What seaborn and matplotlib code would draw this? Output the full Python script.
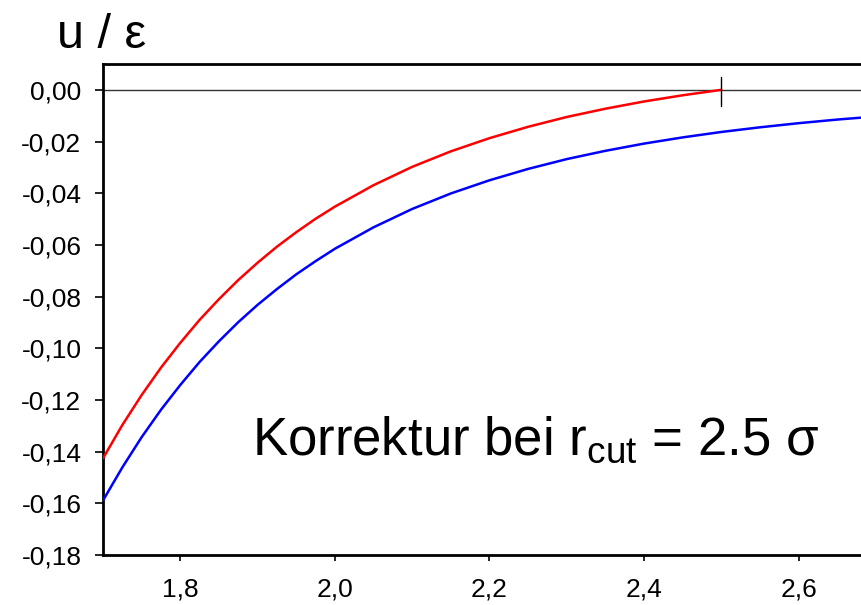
import matplotlib
matplotlib.use("Agg")
import matplotlib.pyplot as plt
import seaborn as sns
import pandas as pd

# Lennard-Jones pair potential u/eps versus distance r/sigma
r = [1.700, 1.725, 1.750, 1.775, 1.800, 1.825, 1.850, 1.875, 1.900, 1.925,
     1.950, 1.975, 2.00, 2.05, 2.10, 2.15, 2.20, 2.25, 2.30, 2.35, 2.40,
     2.45, 2.50, 2.55, 2.60, 2.65, 2.70]
u_full = [-0.1589, -0.1461, -0.1344, -0.1238, -0.1142, -0.1053, -0.0973,
          -0.0899, -0.0832, -0.0771, -0.0714, -0.0663, -0.0615, -0.0532,
          -0.0461, -0.0401, -0.0350, -0.0306, -0.0268, -0.0236, -0.0208,
          -0.0184, -0.0163, -0.0145, -0.0129, -0.0115, -0.0103]
# shifted potential, cut off at r_cut = 2.5
r_cut = [1.700, 1.725, 1.750, 1.775, 1.800, 1.825, 1.850, 1.875, 1.900,
         1.925, 1.950, 1.975, 2.00, 2.05, 2.10, 2.15, 2.20, 2.25, 2.30,
         2.35, 2.40, 2.45, 2.50]
u_shift = [-0.1426, -0.1297, -0.1181, -0.1075, -0.0979, -0.0890, -0.0810,
           -0.0736, -0.0669, -0.0607, -0.0551, -0.0499, -0.0452, -0.0369,
           -0.0298, -0.0238, -0.0187, -0.0143, -0.0105, -0.0073, -0.0045,
           -0.0021, 0.0000]
xticks = [1.8, 2.0, 2.2, 2.4, 2.6]
yticks = [0.00, -0.02, -0.04, -0.06, -0.08, -0.10, -0.12, -0.14, -0.16, -0.18]

sns.set_style("ticks")
plt.rcParams["font.family"] = ["Liberation Sans", "DejaVu Sans"]
plt.rcParams["mathtext.fontset"] = "custom"
plt.rcParams["mathtext.rm"] = "Liberation Sans"
plt.rcParams["mathtext.it"] = "Liberation Sans"
plt.rcParams["mathtext.bf"] = "Liberation Sans"
for key in ["text.color", "axes.labelcolor", "xtick.color", "ytick.color"]:
    plt.rcParams[key] = "black"

fig = plt.figure(figsize=(8.62, 6.05), dpi=100)
ax = fig.add_axes([103 / 862, 1 - 555 / 605, 1 - 103 / 862, (555 - 64) / 605])

df_full = pd.DataFrame({"r": r, "u": u_full})
df_shift = pd.DataFrame({"r": r_cut, "u": u_shift})

ax.axhline(0, color="#333333", lw=1.0, zorder=1)
sns.lineplot(data=df_full, x="r", y="u", color="#0000ff", lw=1.8, ax=ax, zorder=3)
sns.lineplot(data=df_shift, x="r", y="u", color="#ff0000", lw=1.8, ax=ax, zorder=3)
# marker at the cutoff distance
ax.plot([2.5, 2.5], [0.0051, -0.0061], color="black", lw=1.0, zorder=4)

ax.set_xlim(1.7, 2.682)
ax.set_ylim(-0.18, 0.01)
ax.set_xticks(xticks)
ax.set_yticks(yticks)
ax.set_xticklabels([f"{v:.1f}".replace(".", ",") for v in xticks], fontsize=19)
ax.set_yticklabels([f"{v:.2f}".replace(".", ",").replace("-0,00", "0,00") for v in yticks], fontsize=19)
ax.tick_params(axis="y", direction="out", length=5.5, width=1.2, color="black", pad=10)
ax.tick_params(axis="x", direction="out", length=4, width=1.2, color="black", pad=12)
ax.set_xlabel("")
ax.set_ylabel("")

for side in ["left", "bottom", "top"]:
    ax.spines[side].set_linewidth(2.0)
    ax.spines[side].set_color("black")
ax.spines["right"].set_visible(False)

fig.text(57 / 862, 1 - 48 / 605, "u / ε", fontsize=35, ha="left", va="baseline")
ax.text(1.893, -0.1413, r"Korrektur bei r$_{\mathrm{cut}}$ = 2.5 σ", fontsize=38,
        ha="left", va="baseline")

fig.savefig("out.png", dpi=100)
